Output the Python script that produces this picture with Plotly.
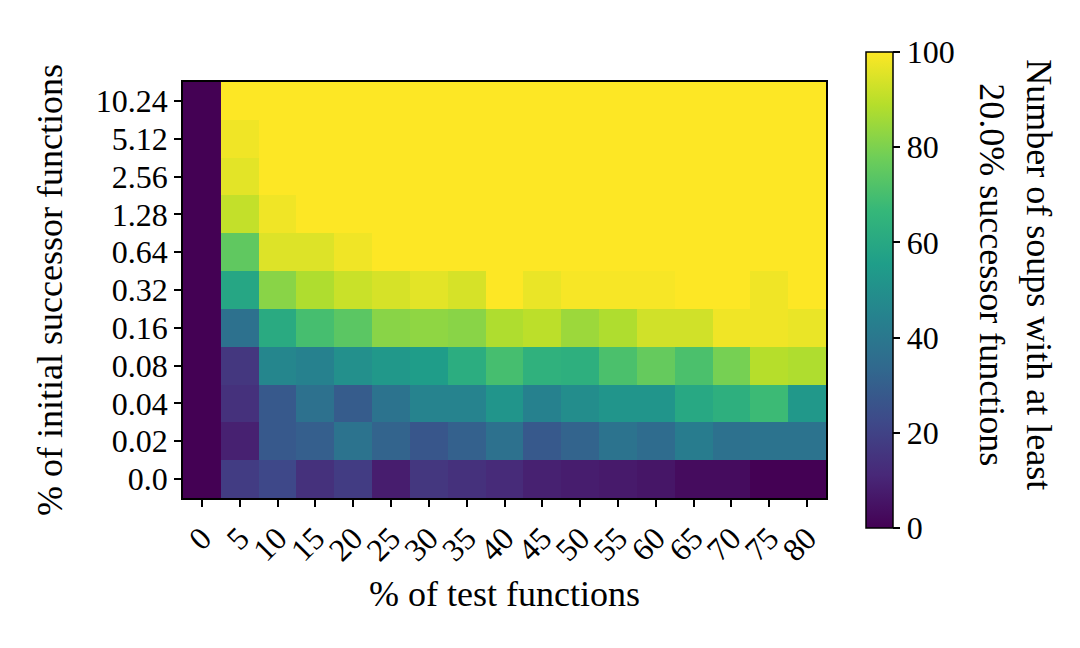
import plotly.graph_objects as go

# % of test functions (x) and % of initial successor functions (y, bottom to top)
test_pct = ["0", "5", "10", "15", "20", "25", "30", "35", "40",
            "45", "50", "55", "60", "65", "70", "75", "80"]
init_pct = ["0.0", "0.02", "0.04", "0.08", "0.16", "0.32",
            "0.64", "1.28", "2.56", "5.12", "10.24"]

# number of soups with at least 20% successor functions, one list per row
row_0_0 = [0, 18, 22, 14, 18, 8, 16, 14, 12, 9, 8, 7, 6, 3, 3, 0, 0]
row_0_02 = [0, 9, 28, 30, 38, 32, 27, 31, 37, 28, 32, 38, 35, 42, 37, 38, 38]
row_0_04 = [0, 14, 28, 37, 29, 38, 45, 45, 52, 44, 49, 52, 52, 60, 63, 68, 53]
row_0_08 = [0, 16, 46, 44, 50, 53, 55, 62, 70, 64, 63, 71, 76, 71, 79, 89, 88]
row_0_16 = [0, 37, 61, 70, 74, 82, 83, 82, 88, 90, 85, 88, 93, 93, 98, 98, 97]
row_0_32 = [0, 59, 82, 88, 92, 94, 96, 94, 100, 97, 99, 99, 99, 100, 100, 98, 100]
row_0_64 = [0, 75, 95, 95, 98, 100, 100, 100, 100, 100, 100, 100, 100, 100, 100, 100, 100]
row_1_28 = [0, 91, 98, 100, 100, 100, 100, 100, 100, 100, 100, 100, 100, 100, 100, 100, 100]
row_2_56 = [0, 96, 100, 100, 100, 100, 100, 100, 100, 100, 100, 100, 100, 100, 100, 100, 100]
row_5_12 = [0, 98, 100, 100, 100, 100, 100, 100, 100, 100, 100, 100, 100, 100, 100, 100, 100]
row_10_24 = [0, 100, 100, 100, 100, 100, 100, 100, 100, 100, 100, 100, 100, 100, 100, 100, 100]

z = [row_0_0, row_0_02, row_0_04, row_0_08, row_0_16, row_0_32,
     row_0_64, row_1_28, row_2_56, row_5_12, row_10_24]

font = "Liberation Serif"

fig = go.Figure()
fig.add_trace(go.Heatmap(
    x=test_pct, y=init_pct, z=z,
    colorscale="Viridis", zmin=0, zmax=100,
    colorbar=dict(
        thickness=27, lenmode="pixels", len=476,
        x=1.062, xanchor="left", xpad=0, y=0.5, yanchor="middle", ypad=0,
        outlinecolor="black", outlinewidth=1.5,
        ticks="outside", ticklen=7, tickwidth=1.5, tickcolor="black",
        tickvals=[0, 20, 40, 60, 80, 100],
        tickfont=dict(family=font, size=32, color="black"),
    ),
))

axis_common = dict(
    showline=True, linecolor="black", linewidth=1.5, mirror=True,
    ticks="outside", ticklen=7, tickwidth=1.5, tickcolor="black",
    tickfont=dict(family=font, size=32, color="black"),
    showgrid=False, zeroline=False, automargin=False,
)

fig.update_xaxes(**axis_common, tickangle=-45, tickmode="array", tickvals=test_pct,
                 title=dict(text="% of test functions", standoff=14,
                            font=dict(family=font, size=36, color="black")))
fig.update_yaxes(**axis_common, tickmode="array", tickvals=init_pct,
                 title=dict(text="% of initial successor functions", standoff=22,
                            font=dict(family=font, size=36, color="black")))

fig.add_annotation(
    text="Number of soups with at least<br>20.0% successor functions",
    xref="paper", yref="paper", x=1.295, y=0.536,
    xanchor="center", yanchor="middle",
    showarrow=False, textangle=90,
    font=dict(family=font, size=36, color="black"),
)

# the page body adds an 8px offset, so shift the plot area up/left by 8px
fig.update_layout(
    width=1080, height=648,
    margin=dict(l=175, r=262, t=74, b=158),
    paper_bgcolor="white", plot_bgcolor="white",
)

fig.write_html("out.html")
